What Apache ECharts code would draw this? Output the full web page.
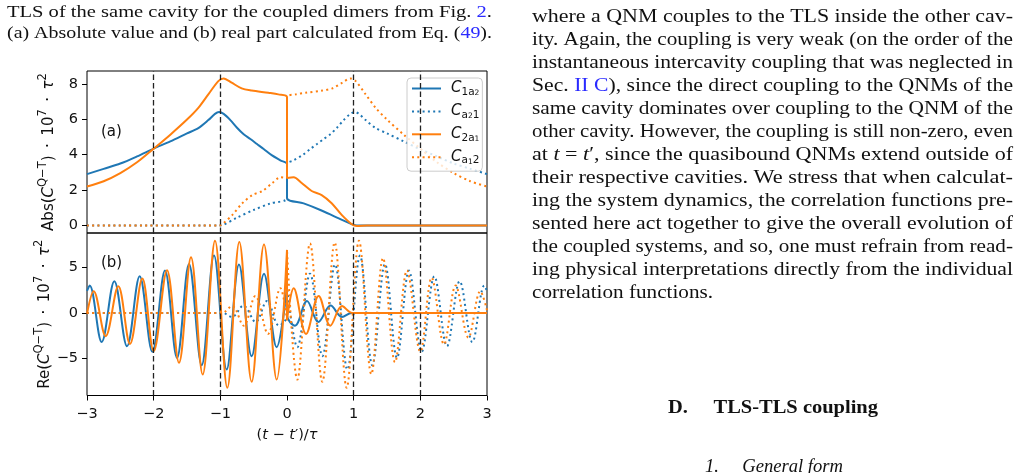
<!DOCTYPE html>
<html>
<head>
<meta charset="utf-8">
<script src="https://cdn.jsdelivr.net/npm/echarts@6.0.0/dist/echarts.min.js"></script>
<style>
html, body { margin: 0; padding: 0; background: #fff; }
#main { width: 1029px; height: 473px; }
</style>
</head>
<body>
<div id="main"></div>
<script>
// dashed guide lines, in units of tau
var vLines = [-2, -1, 1, 2];
var absTicks = [0, 2, 4, 6, 8];
var reTicks = [-5, 0, 5];

// (a) absolute value
var absC1a2 = [[-3,2.9],[-2.75,3.2],[-2.5,3.5],[-2.25,3.9],[-2,4.34],[-1.75,4.75],[-1.5,5.2],[-1.33,5.5],[-1.18,5.95],[-1.08,6.3],[-1.02,6.4],[-0.95,6.3],[-0.85,5.95],[-0.75,5.52],[-0.65,5.15],[-0.55,4.88],[-0.45,4.6],[-0.35,4.32],[-0.23,3.97],[-0.1,3.68],[0,3.47],[0,1.55],[0.25,1.25],[0.5,0.88],[0.75,0.45],[1,0.04],[1.1,0],[3,0]];
var absCa21 = [[-3,0],[-1.02,0],[-0.75,0.45],[-0.5,0.88],[-0.25,1.25],[0,1.55],[0,3.47],[0.1,3.68],[0.23,3.97],[0.35,4.32],[0.45,4.6],[0.55,4.88],[0.65,5.15],[0.75,5.52],[0.85,5.95],[0.95,6.3],[1.02,6.4],[1.08,6.3],[1.18,5.95],[1.33,5.5],[1.5,5.2],[1.75,4.75],[2,4.3],[2.25,3.9],[2.5,3.5],[2.75,3.2],[3,2.9]];
var absC2a1 = [[-3,2.2],[-2.75,2.5],[-2.5,2.96],[-2.25,3.57],[-2,4.34],[-1.75,5.13],[-1.5,5.98],[-1.33,6.64],[-1.18,7.4],[-1.03,8.15],[-0.95,8.3],[-0.83,8.06],[-0.68,7.74],[-0.53,7.62],[-0.28,7.49],[-0.13,7.4],[0,7.25],[0,2.68],[0.1,2.72],[0.22,2.4],[0.37,1.95],[0.52,1.72],[0.67,1.26],[0.82,0.6],[0.97,0.08],[1.05,-0.03],[1.2,0],[3,0]];
var absCa12 = [[-3,0],[-1.02,0],[-0.97,0.08],[-0.82,0.6],[-0.67,1.26],[-0.52,1.72],[-0.37,1.95],[-0.22,2.4],[-0.1,2.72],[0,2.68],[0,7.25],[0.13,7.4],[0.28,7.49],[0.53,7.62],[0.68,7.74],[0.83,8.06],[0.95,8.3],[1.03,8.15],[1.18,7.4],[1.33,6.64],[1.5,5.98],[1.75,5.13],[2,4.34],[2.25,3.57],[2.5,2.96],[2.75,2.5],[3,2.2]];

// (b) real part
var reC1a2 = [[-3,2.4],[-2.96,3.0],[-2.78,-3.2],[-2.59,3.47],[-2.4,-3.65],[-2.21,4.0],[-2.02,-4.27],[-1.83,4.63],[-1.65,-4.93],[-1.47,5.36],[-1.28,-5.73],[-1.095,6.28],[-0.905,-6.2],[-0.72,5.3],[-0.53,-4.74],[-0.345,4.3],[-0.155,-3.76],[0,2.8],[0,-0.3],[0.12,-1.4],[0.3,1.3],[0.47,-1.0],[0.655,0.8],[0.825,-0.45],[0.97,0],[3,0]];
var reCa21 = [[-3,0],[-0.97,0],[-0.825,-0.45],[-0.655,0.8],[-0.47,-1.0],[-0.3,1.3],[-0.12,-1.4],[0,-0.3],[0,2.8],[0.155,-3.76],[0.345,4.3],[0.53,-4.74],[0.72,5.3],[0.905,-6.2],[1.095,6.28],[1.28,-5.73],[1.47,5.36],[1.65,-4.93],[1.83,4.63],[2.02,-4.27],[2.21,4.0],[2.4,-3.65],[2.59,3.47],[2.78,-3.2],[2.96,3.0],[3,2.4]];
var reC2a1 = [[-3,-0.1],[-2.9,2.37],[-2.72,-2.55],[-2.53,2.92],[-2.355,-3.4],[-2.17,3.76],[-2.0,-4.2],[-1.8,4.67],[-1.62,-5.47],[-1.44,6.1],[-1.265,-6.75],[-1.08,7.9],[-0.895,-8.2],[-0.715,7.77],[-0.53,-7.55],[-0.345,7.48],[-0.155,-7.3],[0,6.9],[0,-0.8],[0.1,2.7],[0.285,-2.3],[0.475,1.85],[0.65,-1.4],[0.825,0.75],[0.98,0],[3,0]];
var reCa12 = [[-3,0],[-0.98,0],[-0.825,0.75],[-0.65,-1.4],[-0.475,1.85],[-0.285,-2.3],[-0.1,2.7],[0,-0.8],[0,6.9],[0.155,-7.3],[0.345,7.6],[0.53,-7.55],[0.715,7.7],[0.895,-8.2],[1.08,7.9],[1.265,-6.7],[1.44,6.0],[1.62,-5.4],[1.8,4.65],[2.0,-4.25],[2.17,3.85],[2.355,-3.45],[2.53,3.0],[2.72,-2.7],[2.9,2.37],[3,0.3]];

var blue = '#1f77b4', orange = '#ff7f0e';
var dots = [2, 3.3];
var axisFont = 'DejaVu Sans';

var legendText = {
    C1a2: '{c|C}{s|1a}{ss|2}',
    Ca21: '{c|C}{s|a}{ss|2}{s|1}',
    C2a1: '{c|C}{s|2a}{ss|1}',
    Ca12: '{c|C}{s|a}{ss|1}{s|2}'
};

// paper text around the figure
var caption = [
    '{n|TLS of the same cavity for the coupled dimers from Fig. }{b|2}{n|.}',
    '{n|(a) Absolute value and (b) real part calculated from Eq. (}{b|49}{n|).}'
];
var column = [
    '{n|where a QNM couples to the TLS inside the other cav-}',
    '{n|ity. Again, the coupling is very weak (on the order of the}',
    '{n|instantaneous intercavity coupling that was neglected in}',
    '{n|Sec. }{b|II C}{n|), since the direct coupling to the QNMs of the}',
    '{n|same cavity dominates over coupling to the QNM of the}',
    '{n|other cavity. However, the coupling is still non-zero, even}',
    '{n|at }{i|t}{n| = }{i|t}{n|\u2032, since the quasibound QNMs extend outside of}',
    '{n|their respective cavities. We stress that when calculat-}',
    '{n|ing the system dynamics, the correlation functions pre-}',
    '{n|sented here act together to give the overall evolution of}',
    '{n|the coupled systems, and so, one must refrain from read-}',
    '{n|ing physical interpretations directly from the individual}',
    '{n|correlation functions.}'
];

var ctx = document.createElement('canvas').getContext('2d');
function plain(s) { return s.replace(/\{\w+\|([^}]*)\}/g, '$1'); }
function extend(a) {
    for (var k = 1; k < arguments.length; k++) {
        for (var p in arguments[k]) a[p] = arguments[k][p];
    }
    return a;
}
function serifRich(size, weight, style) {
    var base = {fontFamily: 'Liberation Serif', fontSize: size, fontWeight: weight || 'normal', fontStyle: style || 'normal', fill: '#111'};
    return {
        n: base,
        b: extend({}, base, {fill: '#2a2aff'}),
        i: extend({}, base, {fontStyle: 'italic'})
    };
}

// stretch each line to the measured width of the printed line
function textLine(str, x, y, width, size, weight, style) {
    ctx.font = (style || 'normal') + ' ' + (weight || 'normal') + ' ' + size + 'px "Liberation Serif"';
    var w = ctx.measureText(plain(str)).width;
    return {
        type: 'text', x: x, y: y, scaleX: width / w, silent: true,
        style: {text: str, rich: serifRich(size, weight, style), verticalAlign: 'middle', align: 'left'}
    };
}

var graphics = [];
graphics.push(textLine(caption[0], 7, 12.7, 485, 17.5));
graphics.push(textLine(caption[1], 7, 33.5, 485, 17.5));
for (var i = 0; i < column.length; i++) {
    var last = i === column.length - 1;
    graphics.push(textLine(column[i], 532, 16.7 + 23 * i, last ? 181 : 481, 19.5));
}
graphics.push(textLine('{n|D.\u2003 TLS-TLS coupling}', 668, 408.3, 210, 19.5, 'bold'));
graphics.push(textLine('{n|1.\u2003 General form}', 705, 467, 138, 19.5, 'normal', 'italic'));
graphics.push({type: 'text', x: 101, y: 131.7, silent: true,
    style: {text: '(a)', fontFamily: axisFont, fontSize: 15, fill: '#111', verticalAlign: 'middle'}});
graphics.push({type: 'text', x: 101, y: 262.7, silent: true,
    style: {text: '(b)', fontFamily: axisFont, fontSize: 15, fill: '#111', verticalAlign: 'middle'}});

function minus(v) { return v < 0 ? '\u2212' + (-v) : String(v); }

var xNameRich = {
    n: {fontFamily: axisFont, fontSize: 14.5, color: '#111'},
    i: {fontFamily: axisFont, fontSize: 14.5, fontStyle: 'italic', color: '#111'}
};
var yNameRich = {
    n: {fontFamily: axisFont, fontSize: 15, color: '#111', lineHeight: 20, verticalAlign: 'bottom'},
    i: {fontFamily: axisFont, fontSize: 15, fontStyle: 'italic', color: '#111', lineHeight: 20, verticalAlign: 'bottom'},
    s: {fontFamily: axisFont, fontSize: 11.5, color: '#111', lineHeight: 20, verticalAlign: 'top'}
};

function xAxisOf(grid, labels) {
    return {
        gridIndex: grid, type: 'value', min: -3, max: 3, interval: 1,
        axisLine: {show: false, onZero: false},
        splitLine: {show: false},
        axisTick: {show: labels, length: 5, lineStyle: {color: '#000'}},
        axisLabel: {show: labels, formatter: minus, fontFamily: axisFont, fontSize: 14.5, color: '#111', margin: 11},
        name: labels ? '{n|(}{i|t}{n| \u2212 }{i|t}{n|\u2032)/}{i|\u03c4}' : '',
        nameLocation: 'middle', nameGap: 32,
        nameTextStyle: {rich: xNameRich}
    };
}
function yAxisOf(grid, min, max, ticks, name) {
    return {
        gridIndex: grid, type: 'value', min: min, max: max,
        axisLine: {show: false, onZero: false},
        splitLine: {show: false},
        axisTick: {show: true, length: 5, lineStyle: {color: '#000'}, customValues: ticks},
        axisLabel: {customValues: ticks, formatter: minus, fontFamily: axisFont, fontSize: 14.5, color: '#111', margin: 9},
        name: name, nameLocation: 'middle', nameGap: 30, nameRotate: 90,
        nameTextStyle: {rich: yNameRich}
    };
}

var guides = {
    silent: true, symbol: ['none', 'none'], label: {show: false}, animation: false,
    lineStyle: {type: [5.5, 3], color: '#222', width: 1.3},
    data: vLines.map(function (v) { return {xAxis: v}; })
};

function series(name, data, color, dashed, grid, smooth, withGuides) {
    var s = {
        name: name, type: 'line', data: data, xAxisIndex: grid, yAxisIndex: grid,
        symbol: 'none', smooth: smooth, color: color,
        lineStyle: {width: 2, color: color, type: dashed ? dots : 'solid'}
    };
    if (withGuides) s.markLine = guides;
    return s;
}

var yName = '{i|C}{s|Q\u2212T}{n|)\u2002\u00b7\u200210}{s|7}{n|\u2002\u00b7\u2002}{i|\u03c4}{s|2}';

var chart = echarts.init(document.getElementById('main'));
chart.setOption({
    animation: false,
    backgroundColor: '#fff',
    graphic: graphics,
    grid: [
        {left: 87, top: 71, width: 400, height: 162, show: true, borderColor: '#000', borderWidth: 1, backgroundColor: 'transparent'},
        {left: 87, top: 233, width: 400, height: 162.5, show: true, borderColor: '#000', borderWidth: 1, backgroundColor: 'transparent'}
    ],
    xAxis: [xAxisOf(0, false), xAxisOf(1, true)],
    yAxis: [
        yAxisOf(0, -0.42, 8.72, absTicks, '{n|Abs(}' + yName),
        yAxisOf(1, -9.05, 8.75, reTicks, '{n|Re(}' + yName)
    ],
    legend: {
        orient: 'vertical', left: 407, top: 78,
        padding: [3, 3, 5, 4], itemGap: 6.4, itemWidth: 29, itemHeight: 14,
        backgroundColor: 'rgba(255,255,255,0.8)', borderColor: '#cccccc', borderWidth: 1, borderRadius: 4,
        itemStyle: {opacity: 0, borderWidth: 0},
        formatter: function (name) { return legendText[name]; },
        textStyle: {
            rich: {
                c: {fontFamily: axisFont, fontStyle: 'italic', fontSize: 15, color: '#111', lineHeight: 18, verticalAlign: 'middle', padding: [0, 0, 0, 5]},
                s: {fontFamily: axisFont, fontSize: 10.5, color: '#111', lineHeight: 18, verticalAlign: 'bottom'},
                ss: {fontFamily: axisFont, fontSize: 7.5, color: '#111', lineHeight: 18, verticalAlign: 'bottom'}
            }
        }
    },
    series: [
        series('C1a2', absC1a2, blue, false, 0, 0.3, true),
        series('Ca21', absCa21, blue, true, 0, 0.3),
        series('C2a1', absC2a1, orange, false, 0, 0.3),
        series('Ca12', absCa12, orange, true, 0, 0.3),
        series('C1a2', reC1a2, blue, false, 1, 0.36, true),
        series('Ca21', reCa21, blue, true, 1, 0.36),
        series('C2a1', reC2a1, orange, false, 1, 0.36),
        series('Ca12', reCa12, orange, true, 1, 0.36)
    ]
});
</script>
</body>
</html>
